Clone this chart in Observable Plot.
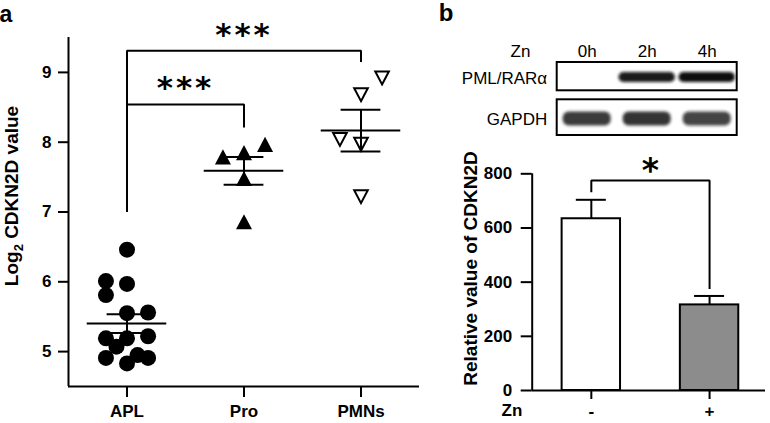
<!DOCTYPE html>
<html><head><meta charset="utf-8">
<script src="https://cdn.jsdelivr.net/npm/d3@7"></script>
<script src="https://cdn.jsdelivr.net/npm/@observablehq/plot@0.6"></script>
<style>
body{margin:0;background:#fff;}
#fig{position:relative;width:770px;height:423px;overflow:hidden;background:#fff;}
#fig svg{position:absolute;overflow:visible;}
</style></head><body><div id="fig"></div>
<script>
// ---------- Panel a data ----------
const groups = ["APL", "Pro", "PMNs"];
const aplValues = [6.46, 6.01, 5.97, 5.81, 5.55, 5.56, 5.19, 5.19, 5.22, 5.07, 4.91, 4.83, 4.95, 4.91];
const aplSlots  = [0, -2, 0, -2, 0, 2, -2, 0, 2, -1, -2, 0, 1, 2];
const proValues = [7.79, 7.85, 7.97, 7.48, 6.86];
const proSlots  = [-2, 0, 2, 0, 0];
const pmnValues = [8.92, 8.68, 8.04, 7.97, 7.22];
const pmnSlots  = [2, 0, -2, 0, 0];
const yTicksA = [5, 6, 7, 8, 9];
const yDomainA = [4.5, 9.5];
const bracketsA = [
  {from: 0, to: 2, start: 7.0, top: 9.31, end: 9.15, label: "***"},
  {from: 0, to: 1, start: 7.0, top: 8.54, end: 8.21, label: "***"}
];

// ---------- Panel b data ----------
const lanes = ["0h", "2h", "4h"];
const blotRows = ["PML/RAR\u03b1", "GAPDH"];
const pmlIntensity = [0, 0.95, 1.0];
const gapdhIntensity = [0.85, 0.88, 0.78];
const conditions = ["-", "+"];
const barMeans = [634, 316];
const barErrors = [70, 33];
const yTicksB = [0, 200, 400, 600, 800];
const yDomainB = [0, 800];
const bracketB = {from: 0, to: 1, start: 732, top: 775, end: 375, label: "*"};

// ---------- styles ----------
const FONT = '"Liberation Sans", Arial, Helvetica, sans-serif';
const STAR_FONT = '"DejaVu Sans", sans-serif';
const SLOT = 0.09;
const fig = document.getElementById("fig");
function place(svg, left, top) { svg.style.left = left + "px"; svg.style.top = top + "px"; fig.appendChild(svg); return d3.select(svg); }
const baseStyle = {fontFamily: FONT, fontSize: "17px", fontWeight: "bold", color: "#000", background: "transparent"};
const intFmt = d => String(d);

const upTri = {draw(ctx, size) { const r = Math.sqrt(size / Math.PI); ctx.moveTo(0, -0.95 * r); ctx.lineTo(r, 0.95 * r); ctx.lineTo(-r, 0.95 * r); ctx.closePath(); }};
const downTri = {draw(ctx, size) { const r = Math.sqrt(size / Math.PI); ctx.moveTo(0, 0.95 * r); ctx.lineTo(r, -0.95 * r); ctx.lineTo(-r, -0.95 * r); ctx.closePath(); }};

// ---------- Panel a ----------
const seriesA = [aplValues, proValues, pmnValues];
const slotsA = [aplSlots, proSlots, pmnSlots];
const ptsA = seriesA.flatMap((vals, g) => vals.map((v, i) => ({g, v, s: slotsA[g][i]})));
const statsA = seriesA.map((vals, g) => ({g, m: d3.mean(vals), se: d3.deviation(vals) / Math.sqrt(vals.length)}));
const bracketPtsA = bracketsA.flatMap((b, k) => [
  {k, x: b.from, y: b.start}, {k, x: b.from, y: b.top}, {k, x: b.to, y: b.top}, {k, x: b.to, y: b.end}
]);
const px = d => d.g + d.s * SLOT;

const plotA = Plot.plot({
  width: 440, height: 423,
  marginLeft: 68, marginRight: 21, marginTop: 37, marginBottom: 37,
  x: {type: "linear", domain: [-0.5, 2.5]},
  y: {type: "linear", domain: yDomainA},
  style: baseStyle,
  marks: [
    Plot.ruleX([-0.5], {strokeWidth: 2, stroke: "#000"}),
    Plot.ruleY([yDomainA[0]], {strokeWidth: 2, stroke: "#000"}),
    Plot.axisY({ticks: yTicksA, tickFormat: intFmt, tickSize: 10, tickPadding: 7, strokeWidth: 2, label: null, fontSize: 17, fontWeight: "bold"}),
    Plot.axisX({ticks: [0, 1, 2], tickFormat: i => groups[i], tickSize: 11, tickPadding: 7, strokeWidth: 2, label: null, fontSize: 17, fontWeight: "bold"}),
    Plot.dot(ptsA.filter(d => d.g === 0), {x: px, y: "v", r: 8, fill: "#000", stroke: null}),
    Plot.dot(ptsA.filter(d => d.g === 1), {x: px, y: "v", r: 8, symbol: upTri, fill: "#000", stroke: null}),
    Plot.dot(ptsA.filter(d => d.g === 2), {x: px, y: "v", r: 6.8, symbol: downTri, fill: "none", stroke: "#000", strokeWidth: 2}),
    Plot.ruleY(statsA, {y: "m", x1: d => d.g - 0.34, x2: d => d.g + 0.34, strokeWidth: 2, stroke: "#000"}),
    Plot.ruleY(statsA, {y: d => d.m + d.se, x1: d => d.g - 0.17, x2: d => d.g + 0.17, strokeWidth: 2, stroke: "#000"}),
    Plot.ruleY(statsA, {y: d => d.m - d.se, x1: d => d.g - 0.17, x2: d => d.g + 0.17, strokeWidth: 2, stroke: "#000"}),
    Plot.ruleX(statsA, {x: "g", y1: d => d.m - d.se, y2: d => d.m + d.se, strokeWidth: 2, stroke: "#000"}),
    Plot.line(bracketPtsA, {x: "x", y: "y", z: "k", stroke: "#000", strokeWidth: 2, strokeLinejoin: "miter", strokeLinecap: "butt"}),
    Plot.text(bracketsA, {x: d => (d.from + d.to) / 2, y: "top", text: "label", dy: -16, fontSize: 31, fontFamily: STAR_FONT, fontWeight: "bold", fill: "#000", ariaDescription: "stars"})
  ]
});
const sa = place(plotA, 0, 0);
sa.append("text").attr("x", 6).attr("y", 22).attr("font-family", FONT).attr("font-size", 23).attr("font-weight", "bold").text("a");
const ylA = sa.append("text").attr("transform", "translate(17.5,196) rotate(-90)").attr("text-anchor", "middle")
  .attr("font-family", FONT).attr("font-size", 19).attr("font-weight", "bold");
ylA.append("tspan").text("Log");
ylA.append("tspan").attr("font-size", 13).attr("dy", 5).text("2");
ylA.append("tspan").attr("dy", -5).text(" CDKN2D value");

// ---------- Panel b: blot ----------
const pmlBands = lanes.map((l, i) => ({lane: i, row: blotRows[0], a: pmlIntensity[i]}));
const gapdhBands = lanes.map((l, i) => ({lane: i, row: blotRows[1], a: gapdhIntensity[i]}));
const plotBlot = Plot.plot({
  width: 330, height: 140,
  marginLeft: 116.7, marginRight: 33.3, marginTop: 61.7, marginBottom: 4.3,
  x: {type: "linear", domain: [-0.5, 2.5], axis: null},
  y: {type: "band", domain: blotRows, paddingInner: 0.21, paddingOuter: 0},
  style: {...baseStyle, fontWeight: "normal"},
  marks: [
    Plot.barX([blotRows[0]], {y: d => d, x1: -0.5, x2: 2.5, fill: "#fff", stroke: "#000", strokeWidth: 2, insetBottom: 3.7}),
    Plot.barX([blotRows[1]], {y: d => d, x1: -0.5, x2: 2.5, fill: "#fff", stroke: "#000", strokeWidth: 2, insetTop: -3.7}),
    Plot.barX(pmlBands, {y: "row", x1: d => d.lane - 0.47, x2: d => d.lane + 0.47, fill: "#0a0a0a", fillOpacity: "a", insetTop: 10, insetBottom: 12, rx: 5, ariaDescription: "bands"}),
    Plot.barX(gapdhBands, {y: "row", x1: d => d.lane - 0.4, x2: d => d.lane + 0.4, fill: "#151515", fillOpacity: "a", insetTop: 8.5, insetBottom: 9.5, rx: 6, ariaDescription: "bands"}),
    Plot.axisY({tickSize: 0, tickPadding: 10, label: null, fontSize: 17, fontWeight: "normal"}),
    Plot.text(lanes, {x: (d, i) => i, text: d => d, frameAnchor: "top", dy: -17, fontSize: 17, fill: "#000"}),
    Plot.text(["Zn"], {frameAnchor: "top-left", dx: -36.7, dy: -17, textAnchor: "middle", fontSize: 17, fill: "#000"})
  ]
});
const sblot = place(plotBlot, 440, 0);
const defs = sblot.append("defs");
defs.append("filter").attr("id", "blurband").attr("x", "-20%").attr("y", "-60%").attr("width", "140%").attr("height", "220%")
  .append("feGaussianBlur").attr("stdDeviation", 1.5);
sblot.selectAll('g[aria-description="bands"]').attr("filter", "url(#blurband)");
sblot.append("text").attr("x", 6).attr("y", 21).attr("font-family", FONT).attr("font-size", 24).attr("font-weight", "bold").text("b");

// ---------- Panel b: bars ----------
const barData = conditions.map((c, i) => ({c, i, m: barMeans[i], e: barErrors[i]}));
const bracketPtsB = [
  {x: bracketB.from, y: bracketB.start}, {x: bracketB.from, y: bracketB.top},
  {x: bracketB.to, y: bracketB.top}, {x: bracketB.to, y: bracketB.end}
];
const plotB = Plot.plot({
  width: 330, height: 283,
  marginLeft: 91.7, marginRight: 5, marginTop: 33.3, marginBottom: 33,
  x: {type: "linear", domain: [-0.5, 1.473]},
  y: {type: "linear", domain: yDomainB},
  color: {domain: conditions, range: ["#ffffff", "#8c8c8c"]},
  style: baseStyle,
  marks: [
    Plot.rectY(barData, {x1: d => d.i - 0.247, x2: d => d.i + 0.247, y1: 0, y2: "m", fill: "c", stroke: "#000", strokeWidth: 2}),
    Plot.ruleX(barData, {x: "i", y1: "m", y2: d => d.m + d.e, strokeWidth: 2, stroke: "#000"}),
    Plot.ruleY(barData, {y: d => d.m + d.e, x1: d => d.i - 0.127, x2: d => d.i + 0.127, strokeWidth: 2, stroke: "#000"}),
    Plot.ruleX([-0.5], {strokeWidth: 2, stroke: "#000"}),
    Plot.ruleY([0], {strokeWidth: 2, stroke: "#000"}),
    Plot.axisY({ticks: yTicksB, tickFormat: intFmt, tickSize: 11, tickPadding: 9, strokeWidth: 2, label: null, fontSize: 17, fontWeight: "bold"}),
    Plot.axisX({ticks: [0, 1], tickFormat: i => conditions[i], tickSize: 9, tickPadding: 5, strokeWidth: 2, label: null, fontSize: 17, fontWeight: "bold"}),
    Plot.line(bracketPtsB, {x: "x", y: "y", stroke: "#000", strokeWidth: 2, strokeLinejoin: "miter", strokeLinecap: "butt"}),
    Plot.text([bracketB], {x: d => (d.from + d.to) / 2, y: "top", text: "label", dy: -9, fontSize: 33, fontFamily: STAR_FONT, fontWeight: "bold", fill: "#000"})
  ]
});
const sb = place(plotB, 440, 140);
sb.append("text").attr("x", 72).attr("y", 276).attr("font-family", FONT).attr("font-size", 17).attr("font-weight", "bold").text("Zn");
sb.append("text").attr("transform", "translate(37,128.5) rotate(-90)").attr("text-anchor", "middle")
  .attr("font-family", FONT).attr("font-size", 19).attr("font-weight", "bold").text("Relative value of CDKN2D");

// letter spacing for significance stars
sa.selectAll('g[aria-description="stars"] text').style("letter-spacing", "3px");
</script>
</body></html>
